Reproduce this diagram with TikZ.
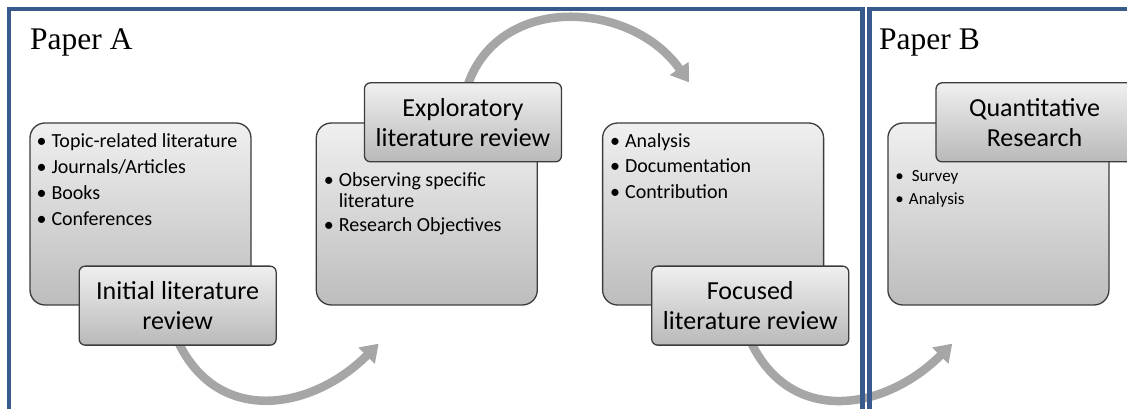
\documentclass[tikz,border=0pt]{standalone}
\usepackage{fontspec}
\setmainfont{Liberation Serif}
\newfontfamily\calibri{Carlito}
\usetikzlibrary{arrows.meta,positioning,backgrounds}

\definecolor{framecol}{RGB}{56,90,140}
\definecolor{flowcol}{RGB}{166,166,166}
\definecolor{edgecol}{RGB}{60,60,60}

\begin{document}
\begin{tikzpicture}[x=1pt,y=1pt,>={Triangle[width=22pt,length=17pt]}]
        \tikzset{back/.style={draw=edgecol, line width=1.3pt, rounded corners=15pt, top color=gray!12, bottom color=gray!52, minimum width=221pt, minimum height=182pt, inner sep=0pt},
        front/.style={draw=edgecol, line width=1.3pt, rounded corners=6pt, top color=gray!12, bottom color=gray!55, minimum width=197pt, minimum height=79pt, align=center, inner sep=0pt, font=\calibri\fontsize{26}{30}\selectfont},
        list/.style={anchor=base west, inner sep=0pt, font=\calibri\fontsize{20}{21}\selectfont},
        flow/.style={draw=flowcol, line width=8.5pt, ->},
        title/.style={anchor=base west, inner sep=0pt, font=\fontsize{31.5}{36}\selectfont},
        frame/.style={draw=framecol, line width=4.6pt},
        }
        \useasboundingbox (0,0) rectangle (1127,409);
        \clip (0,0) rectangle (1127,409);
        \node [back] (initback) at (140.5,195) {};
        \node [back, right=64pt of initback] (explback) {};
        \node [back, right=64pt of explback] (focback) {};
        \node [back, right=63pt of focback] (quantback) {};
        \node [front] (init) at ([xshift=-74pt]initback.south east) {Initial literature\\review};
        \node [front] (expl) at ([xshift=-75pt]explback.north east) {Exploratory\\literature review};
        \node [front] (foc) at ([xshift=-74pt]focback.south east) {Focused\\literature review};
        \node [front] (quant) at ([xshift=-75pt]quantback.north east) {Quantitative\\Research};
%%% bullet lists
        \node [list] (sources) at ([xshift=7pt,yshift=-25pt]initback.north west) {\begin{tabular}[t]{@{}l@{\hspace{5pt}}l@{}}
            \textbullet & Topic-related literature\\[5pt]
            \textbullet & Journals/Articles\\[5pt]
            \textbullet & Books\\[5pt]
            \textbullet & Conferences\end{tabular}};
        \node [list] (observe) at ([xshift=8pt,yshift=-64pt]explback.north west) {\begin{tabular}[t]{@{}l@{\hspace{5pt}}l@{}}
            \textbullet & Observing specific\\
                        & literature\\[3pt]
            \textbullet & Research Objectives\end{tabular}};
        \node [list] (tasks) at ([xshift=8pt,yshift=-25pt]focback.north west) {\begin{tabular}[t]{@{}l@{\hspace{5pt}}l@{}}
            \textbullet & Analysis\\[4.5pt]
            \textbullet & Documentation\\[4.5pt]
            \textbullet & Contribution\end{tabular}};
        \node [list, font=\calibri\fontsize{17}{19}\selectfont] (methods) at ([xshift=8pt,yshift=-59pt]quantback.north west) {\begin{tabular}[t]{@{}l@{\hspace{5pt}}l@{}}
            \textbullet & \hspace{3pt}Survey\\[4pt]
            \textbullet & Analysis\end{tabular}};
        \node [title] (paperA) at (30,359) {Paper A};
        \node [title] (paperB) at (879,359) {Paper B};
%%% paths
        \coordinate (toexpl) at ([xshift=63pt,yshift=-38pt]explback.south west);
        \coordinate (tofoc) at ([xshift=87pt,yshift=40pt]focback.north west);
        \coordinate (toquant) at ([xshift=65pt,yshift=-38pt]quantback.south west);
        \begin{scope}[on background layer]
        \path[flow] ([yshift=5pt]init.south) to[out=-65,in=-135,looseness=1.2] (toexpl);
        \path[flow] ([xshift=4pt,yshift=-5pt]expl.north) to[out=72,in=125,looseness=1.15] (tofoc);
        \path[flow] ([yshift=5pt]foc.south) to[out=-65,in=-135,looseness=1.2] (toquant);
        \end{scope}
%%% frames
        \draw[frame] (9,-20) rectangle (862.5,400);
        \draw[frame] (869.5,-20) rectangle (1150,400);
    \end{tikzpicture}
\end{document}
